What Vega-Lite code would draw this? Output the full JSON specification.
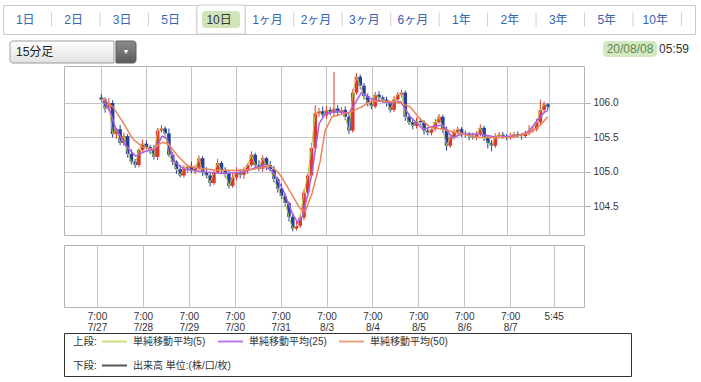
{
  "$schema": "https://vega.github.io/schema/vega-lite/v6.json",
  "padding": {"left": 2, "top": 4, "right": 0, "bottom": 0},
  "background": "white",
  "config": {
    "view": {"stroke": null},
    "font": "Liberation Sans, Noto Sans CJK JP, sans-serif"
  },
  "datasets": {
    "tabs": [
      {"label": "1日", "active": false}, {"label": "2日", "active": false}, {"label": "3日", "active": false},
      {"label": "5日", "active": false}, {"label": "10日", "active": true}, {"label": "1ヶ月", "active": false},
      {"label": "2ヶ月", "active": false}, {"label": "3ヶ月", "active": false}, {"label": "6ヶ月", "active": false},
      {"label": "1年", "active": false}, {"label": "2年", "active": false}, {"label": "3年", "active": false},
      {"label": "5年", "active": false}, {"label": "10年", "active": false}
    ],
    "candles": [
      {"t":0,"o":106.08,"h":106.13,"l":106.02,"c":106.05},
      {"t":2,"o":106.05,"h":106.08,"l":105.86,"c":105.92},
      {"t":4,"o":105.92,"h":106.07,"l":105.88,"c":106.00},
      {"t":6,"o":106.00,"h":106.04,"l":105.50,"c":105.55},
      {"t":8,"o":105.55,"h":105.64,"l":105.48,"c":105.62},
      {"t":10,"o":105.62,"h":105.68,"l":105.39,"c":105.42},
      {"t":12,"o":105.42,"h":105.57,"l":105.38,"c":105.52},
      {"t":14,"o":105.52,"h":105.55,"l":105.21,"c":105.26},
      {"t":16,"o":105.26,"h":105.33,"l":105.11,"c":105.15},
      {"t":18,"o":105.15,"h":105.19,"l":105.06,"c":105.10},
      {"t":20,"o":105.10,"h":105.34,"l":105.07,"c":105.32},
      {"t":22,"o":105.32,"h":105.47,"l":105.29,"c":105.41},
      {"t":24,"o":105.41,"h":105.46,"l":105.33,"c":105.36},
      {"t":26,"o":105.36,"h":105.39,"l":105.26,"c":105.32},
      {"t":28,"o":105.32,"h":105.39,"l":105.18,"c":105.22},
      {"t":30,"o":105.22,"h":105.64,"l":105.17,"c":105.60},
      {"t":32,"o":105.60,"h":105.68,"l":105.57,"c":105.63},
      {"t":34,"o":105.63,"h":105.66,"l":105.50,"c":105.56},
      {"t":36,"o":105.56,"h":105.63,"l":105.22,"c":105.25},
      {"t":38,"o":105.25,"h":105.29,"l":105.10,"c":105.15},
      {"t":40,"o":105.15,"h":105.17,"l":104.97,"c":105.04},
      {"t":42,"o":105.04,"h":105.10,"l":104.92,"c":104.95},
      {"t":44,"o":104.95,"h":105.10,"l":104.92,"c":105.05},
      {"t":46,"o":105.05,"h":105.11,"l":104.99,"c":105.08},
      {"t":48,"o":105.08,"h":105.15,"l":104.98,"c":105.02},
      {"t":50,"o":105.02,"h":105.10,"l":104.97,"c":105.06},
      {"t":52,"o":105.06,"h":105.24,"l":105.03,"c":105.20},
      {"t":54,"o":105.20,"h":105.23,"l":104.94,"c":105.00},
      {"t":56,"o":105.00,"h":105.07,"l":104.91,"c":104.95},
      {"t":58,"o":104.95,"h":104.99,"l":104.79,"c":104.84},
      {"t":60,"o":104.84,"h":105.02,"l":104.81,"c":105.00},
      {"t":62,"o":105.00,"h":105.19,"l":104.97,"c":105.13},
      {"t":64,"o":105.13,"h":105.16,"l":104.98,"c":105.03},
      {"t":66,"o":105.03,"h":105.07,"l":104.92,"c":104.98},
      {"t":68,"o":104.98,"h":105.03,"l":104.76,"c":104.80},
      {"t":70,"o":104.80,"h":104.98,"l":104.77,"c":104.92},
      {"t":72,"o":104.92,"h":105.07,"l":104.88,"c":105.00},
      {"t":74,"o":105.00,"h":105.04,"l":104.91,"c":104.96},
      {"t":76,"o":104.96,"h":105.07,"l":104.90,"c":105.02},
      {"t":78,"o":105.02,"h":105.13,"l":104.97,"c":105.10},
      {"t":80,"o":105.10,"h":105.30,"l":105.07,"c":105.25},
      {"t":82,"o":105.25,"h":105.28,"l":105.04,"c":105.10},
      {"t":84,"o":105.10,"h":105.17,"l":105.01,"c":105.05},
      {"t":86,"o":105.05,"h":105.24,"l":105.00,"c":105.20},
      {"t":88,"o":105.20,"h":105.22,"l":105.03,"c":105.10},
      {"t":90,"o":105.10,"h":105.16,"l":105.01,"c":105.04},
      {"t":92,"o":105.04,"h":105.09,"l":104.85,"c":104.90},
      {"t":94,"o":104.90,"h":104.93,"l":104.70,"c":104.76},
      {"t":96,"o":104.76,"h":104.83,"l":104.61,"c":104.65},
      {"t":98,"o":104.65,"h":104.69,"l":104.50,"c":104.55},
      {"t":100,"o":104.55,"h":104.57,"l":104.28,"c":104.35},
      {"t":102,"o":104.35,"h":104.41,"l":104.14,"c":104.18},
      {"t":104,"o":104.18,"h":104.29,"l":104.15,"c":104.22},
      {"t":106,"o":104.22,"h":104.38,"l":104.19,"c":104.34},
      {"t":108,"o":104.34,"h":104.75,"l":104.30,"c":104.70},
      {"t":110,"o":104.70,"h":104.98,"l":104.64,"c":104.95},
      {"t":112,"o":104.95,"h":105.42,"l":104.92,"c":105.35},
      {"t":114,"o":105.35,"h":105.97,"l":105.31,"c":105.85},
      {"t":116,"o":105.85,"h":105.93,"l":105.80,"c":105.88},
      {"t":118,"o":105.88,"h":105.95,"l":105.78,"c":105.82},
      {"t":120,"o":105.82,"h":105.96,"l":105.77,"c":105.90},
      {"t":122,"o":105.90,"h":105.94,"l":105.82,"c":105.86},
      {"t":124,"o":105.86,"h":106.45,"l":105.81,"c":105.92},
      {"t":126,"o":105.92,"h":105.97,"l":105.82,"c":105.86},
      {"t":128,"o":105.86,"h":105.94,"l":105.83,"c":105.90},
      {"t":130,"o":105.90,"h":105.95,"l":105.75,"c":105.80},
      {"t":132,"o":105.80,"h":105.84,"l":105.55,"c":105.60},
      {"t":134,"o":105.60,"h":106.20,"l":105.57,"c":106.15},
      {"t":136,"o":106.15,"h":106.43,"l":106.12,"c":106.38},
      {"t":138,"o":106.38,"h":106.41,"l":106.20,"c":106.25},
      {"t":140,"o":106.25,"h":106.29,"l":106.05,"c":106.10},
      {"t":142,"o":106.10,"h":106.14,"l":105.95,"c":106.00},
      {"t":144,"o":106.00,"h":106.04,"l":105.91,"c":105.95},
      {"t":146,"o":105.95,"h":106.16,"l":105.92,"c":106.12},
      {"t":148,"o":106.12,"h":106.17,"l":106.03,"c":106.08},
      {"t":150,"o":106.08,"h":106.11,"l":106.00,"c":106.05},
      {"t":152,"o":106.05,"h":106.09,"l":105.95,"c":106.00},
      {"t":154,"o":106.00,"h":106.03,"l":105.86,"c":105.90},
      {"t":156,"o":105.90,"h":106.10,"l":105.87,"c":106.05},
      {"t":158,"o":106.05,"h":106.16,"l":106.02,"c":106.12},
      {"t":160,"o":106.12,"h":106.19,"l":106.08,"c":106.15},
      {"t":162,"o":106.15,"h":106.18,"l":105.74,"c":105.80},
      {"t":164,"o":105.80,"h":105.85,"l":105.68,"c":105.72},
      {"t":166,"o":105.72,"h":105.76,"l":105.62,"c":105.67},
      {"t":168,"o":105.67,"h":105.79,"l":105.63,"c":105.74},
      {"t":170,"o":105.74,"h":105.78,"l":105.68,"c":105.72},
      {"t":172,"o":105.72,"h":105.75,"l":105.54,"c":105.60},
      {"t":174,"o":105.60,"h":105.65,"l":105.53,"c":105.57},
      {"t":176,"o":105.57,"h":105.66,"l":105.53,"c":105.62},
      {"t":178,"o":105.62,"h":105.77,"l":105.59,"c":105.72},
      {"t":180,"o":105.72,"h":105.84,"l":105.70,"c":105.80},
      {"t":182,"o":105.80,"h":105.83,"l":105.57,"c":105.62},
      {"t":184,"o":105.62,"h":105.66,"l":105.31,"c":105.38},
      {"t":186,"o":105.38,"h":105.55,"l":105.35,"c":105.50},
      {"t":188,"o":105.50,"h":105.62,"l":105.47,"c":105.58},
      {"t":190,"o":105.58,"h":105.66,"l":105.54,"c":105.62},
      {"t":192,"o":105.62,"h":105.65,"l":105.51,"c":105.56},
      {"t":194,"o":105.56,"h":105.60,"l":105.50,"c":105.55},
      {"t":196,"o":105.55,"h":105.58,"l":105.46,"c":105.52},
      {"t":198,"o":105.52,"h":105.57,"l":105.47,"c":105.50},
      {"t":200,"o":105.50,"h":105.59,"l":105.46,"c":105.55},
      {"t":202,"o":105.55,"h":105.69,"l":105.52,"c":105.64},
      {"t":204,"o":105.64,"h":105.67,"l":105.45,"c":105.50},
      {"t":206,"o":105.50,"h":105.53,"l":105.34,"c":105.42},
      {"t":208,"o":105.42,"h":105.46,"l":105.30,"c":105.38},
      {"t":210,"o":105.38,"h":105.56,"l":105.35,"c":105.52},
      {"t":212,"o":105.52,"h":105.58,"l":105.49,"c":105.54},
      {"t":214,"o":105.54,"h":105.58,"l":105.48,"c":105.52},
      {"t":216,"o":105.52,"h":105.55,"l":105.46,"c":105.50},
      {"t":218,"o":105.50,"h":105.57,"l":105.47,"c":105.52},
      {"t":220,"o":105.52,"h":105.58,"l":105.49,"c":105.55},
      {"t":222,"o":105.55,"h":105.59,"l":105.50,"c":105.53},
      {"t":224,"o":105.53,"h":105.56,"l":105.47,"c":105.52},
      {"t":226,"o":105.52,"h":105.60,"l":105.49,"c":105.56},
      {"t":228,"o":105.56,"h":105.68,"l":105.53,"c":105.60},
      {"t":230,"o":105.60,"h":105.66,"l":105.57,"c":105.62},
      {"t":232,"o":105.62,"h":105.77,"l":105.59,"c":105.72},
      {"t":234,"o":105.72,"h":106.05,"l":105.68,"c":105.90},
      {"t":236,"o":105.90,"h":106.02,"l":105.86,"c":105.98},
      {"t":238,"o":105.98,"h":106.00,"l":105.90,"c":105.94}
    ],
    "ma25": [
      {"t":0,"v":106.02},{"t":1.6,"v":106.01},{"t":4.2,"v":105.91},{"t":7.8,"v":105.62},{"t":13.1,"v":105.38},
      {"t":18.3,"v":105.23},{"t":23.5,"v":105.30},{"t":28.8,"v":105.33},{"t":32.4,"v":105.52},{"t":35,"v":105.48},
      {"t":39.2,"v":105.14},{"t":44.4,"v":105.04},{"t":54.9,"v":105.00},{"t":65.4,"v":104.98},{"t":75.8,"v":105.00},
      {"t":86.3,"v":105.10},{"t":91.5,"v":105.00},{"t":96.7,"v":104.75},{"t":102,"v":104.39},{"t":104.6,"v":104.27},
      {"t":107.2,"v":104.36},{"t":108.8,"v":104.54},{"t":110.3,"v":104.70},{"t":112.4,"v":105.01},{"t":116.1,"v":105.70},
      {"t":119.2,"v":105.84},{"t":125.5,"v":105.88},{"t":131.8,"v":105.85},{"t":134.9,"v":105.98},{"t":138.6,"v":106.15},
      {"t":143.8,"v":106.06},{"t":149,"v":106.03},{"t":154.2,"v":106.00},{"t":159.5,"v":106.02},{"t":164.7,"v":105.80},
      {"t":171.5,"v":105.62},{"t":176.7,"v":105.66},{"t":182,"v":105.68},{"t":187.2,"v":105.50},{"t":192.4,"v":105.55},
      {"t":201.3,"v":105.55},{"t":211.8,"v":105.50},{"t":222.2,"v":105.53},{"t":227.5,"v":105.58},{"t":231.6,"v":105.72},
      {"t":236.3,"v":105.87},{"t":238,"v":105.89}
    ],
    "ma50": [
      {"t":0,"v":106.05},{"t":1,"v":106.06},{"t":6.3,"v":105.94},{"t":11.5,"v":105.72},{"t":16.7,"v":105.48},
      {"t":22,"v":105.36},{"t":27.2,"v":105.33},{"t":32.4,"v":105.43},{"t":35.6,"v":105.41},{"t":40.8,"v":105.23},
      {"t":46,"v":105.09},{"t":52.3,"v":105.05},{"t":60.1,"v":105.03},{"t":70.6,"v":105.02},{"t":81,"v":105.04},
      {"t":89.9,"v":105.09},{"t":94.1,"v":105.00},{"t":96.7,"v":104.90},{"t":103.5,"v":104.58},{"t":106.1,"v":104.46},
      {"t":108.8,"v":104.43},{"t":112.4,"v":104.70},{"t":114,"v":104.87},{"t":116.6,"v":105.15},{"t":119.2,"v":105.59},
      {"t":122.9,"v":105.80},{"t":131.8,"v":105.86},{"t":138.6,"v":105.94},{"t":143.8,"v":106.03},{"t":154.2,"v":106.02},
      {"t":159.5,"v":106.00},{"t":164.7,"v":105.94},{"t":169.9,"v":105.77},{"t":175.2,"v":105.65},{"t":182,"v":105.62},
      {"t":189.3,"v":105.57},{"t":201.3,"v":105.50},{"t":218.6,"v":105.50},{"t":229,"v":105.58},{"t":233.7,"v":105.67},
      {"t":238,"v":105.80}
    ],
    "legendUpper": [
      {"s": "単純移動平均(5)"}, {"s": "単純移動平均(25)"}, {"s": "単純移動平均(50)"}
    ],
    "legendLower": [
      {"s": "出来高 単位:(株/口/枚)"}
    ]
  },
  "spacing": 5,
  "resolve": {"scale": {"color": "independent", "stroke": "independent"}, "legend": {"color": "independent", "stroke": "independent"}},
  "vconcat": [
    {
      "width": 692, "height": 29,
      "view": {"stroke": "#c9c9c9"},
      "data": {"name": "tabs"},
      "encoding": {
        "x": {"field": "label", "type": "nominal", "sort": null, "axis": null,
              "scale": {"paddingInner": 0, "paddingOuter": 0.14, "align": 0}}
      },
      "layer": [
        {"mark": {"type": "rect", "strokeWidth": 1, "cornerRadiusTopLeft": 3, "cornerRadiusTopRight": 3},
         "encoding": {
           "fill": {"condition": {"test": "datum.active", "value": "#ffffff"}, "value": "transparent"},
           "stroke": {"condition": {"test": "datum.active", "value": "#c9c9c9"}, "value": "transparent"}
         }},
        {"mark": {"type": "tick", "orient": "vertical", "thickness": 1, "size": 14, "color": "#d0d0d0", "opacity": 1},
         "encoding": {"x": {"field": "label", "type": "nominal", "sort": null, "bandPosition": 1}}},
        {"mark": {"type": "tick", "orient": "vertical", "thickness": 38, "size": 17, "cornerRadius": 3, "opacity": 1},
         "encoding": {"color": {"condition": {"test": "datum.active", "value": "#cfe5b9"}, "value": "transparent"}}},
        {"mark": {"type": "text", "fontSize": 12, "dx": -2},
         "encoding": {
           "text": {"field": "label"},
           "color": {"condition": {"test": "datum.active", "value": "#333333"}, "value": "#3563b5"}
         }}
      ]
    },
    {
      "spacing": 1,
      "resolve": {"scale": {"color": "independent", "stroke": "independent"}, "legend": {"color": "independent", "stroke": "independent"}},
      "vconcat": [
        {
          "spacing": 466,
          "hconcat": [
            {
              "spacing": 5,
              "hconcat": [
                {"width": 1, "height": 1, "data": {"values": [{"a": 1}]}, "mark": {"type": "rect", "opacity": 0}, "encoding": {}},
                {
                  "spacing": 0,
                  "hconcat": [
                    {
                      "width": 104, "height": 22,
                      "data": {"values": [{"label": "15分足"}]},
                      "layer": [
                        {"mark": {"type": "rect",
                                  "fill": {"gradient": "linear", "x1": 0, "y1": 0, "x2": 0, "y2": 1,
                                           "stops": [{"offset": 0, "color": "#ffffff"}, {"offset": 1, "color": "#e2e2e2"}]},
                                  "stroke": "#9d9d9d", "strokeWidth": 1, "cornerRadiusTopLeft": 3, "cornerRadiusBottomLeft": 3},
                         "encoding": {}},
                        {"mark": {"type": "text", "align": "left", "dx": 6, "fontSize": 12, "color": "#222222"},
                         "encoding": {
                           "x": {"datum": 0, "type": "quantitative", "scale": {"domain": [0, 1]}, "axis": null},
                           "text": {"field": "label"}
                         }}
                      ]
                    },
                    {
                      "width": 20, "height": 22,
                      "data": {"values": [{"s": "▼"}]},
                      "layer": [
                        {"mark": {"type": "rect",
                                  "fill": {"gradient": "linear", "x1": 0, "y1": 0, "x2": 0, "y2": 1,
                                           "stops": [{"offset": 0, "color": "#8c8c8c"}, {"offset": 1, "color": "#5a5a5a"}]},
                                  "stroke": "#5e5e5e", "strokeWidth": 1, "cornerRadiusTopRight": 3, "cornerRadiusBottomRight": 3},
                         "encoding": {}},
                        {"mark": {"type": "text", "fontSize": 7, "color": "#ffffff"}, "encoding": {"text": {"field": "s"}}}
                      ]
                    }
                  ]
                }
              ]
            },
            {
              "spacing": 0,
              "hconcat": [
                {
                  "width": 54, "height": 16,
                  "data": {"values": [{"d": "20/08/08"}]},
                  "layer": [
                    {"mark": {"type": "rect", "fill": "#d3e7c1", "cornerRadius": 4}, "encoding": {}},
                    {"mark": {"type": "text", "fontSize": 12, "color": "#5f8754"}, "encoding": {"text": {"field": "d"}}}
                  ]
                },
                {
                  "width": 34, "height": 16,
                  "data": {"values": [{"d": "05:59"}]},
                  "mark": {"type": "text", "fontSize": 12, "color": "#333333"},
                  "encoding": {"text": {"field": "d"}}
                }
              ]
            }
          ]
        },
        {
          "spacing": 8,
          "resolve": {"scale": {"color": "independent", "stroke": "independent"}, "legend": {"color": "independent", "stroke": "independent"}},
          "vconcat": [
            {
              "spacing": 59,
              "hconcat": [
                {"width": 1, "height": 1, "data": {"values": [{"a": 1}]}, "mark": {"type": "rect", "opacity": 0}, "encoding": {}},
                {
                  "width": 520, "height": 169,
                  "view": {"stroke": "#b3b3b3"},
                  "layer": [
                    {
                      "data": {"name": "candles"},
                      "mark": {"type": "rule", "strokeWidth": 1},
                      "encoding": {
                        "x": {"field": "t", "type": "quantitative",
                              "scale": {"domain": [-17.25, 254.6], "nice": false, "zero": false},
                              "axis": {"values": [0, 24, 48, 72, 96, 120, 144, 168, 192, 216, 238.75], "labels": false, "ticks": false,
                                       "domain": false, "grid": true, "gridColor": "#c4c4c4", "title": null}},
                        "y": {"field": "l", "type": "quantitative",
                              "scale": {"domain": [104.087, 106.536], "nice": false, "zero": false},
                              "axis": {"orient": "right", "values": [104.5, 105, 105.5, 106], "format": ".1f", "grid": true,
                                       "gridColor": "#c4c4c4", "tickColor": "#b0b0b0", "tickSize": 6, "labelPadding": 3,
                                       "domain": false, "title": null, "labelFontSize": 10, "labelColor": "#333333"}},
                        "y2": {"field": "h"},
                        "color": {"condition": {"test": "datum.c >= datum.o", "value": "#e0352b"}, "value": "#27409e"}
                      }
                    },
                    {
                      "data": {"name": "candles"},
                      "mark": {"type": "bar", "size": 3.6},
                      "encoding": {
                        "x": {"field": "t", "type": "quantitative"},
                        "y": {"field": "o", "type": "quantitative"},
                        "y2": {"field": "c"},
                        "color": {"condition": {"test": "datum.c >= datum.o", "value": "#e0352b"}, "value": "#27409e"}
                      }
                    },
                    {
                      "data": {"name": "candles"},
                      "mark": {"type": "line", "color": "#b3c744", "strokeWidth": 1},
                      "encoding": {
                        "x": {"field": "t", "type": "quantitative"},
                        "y": {"field": "c", "type": "quantitative"}
                      }
                    },
                    {
                      "data": {"name": "ma25"},
                      "mark": {"type": "line", "color": "#a95fe0", "strokeWidth": 1.5},
                      "encoding": {
                        "x": {"field": "t", "type": "quantitative"},
                        "y": {"field": "v", "type": "quantitative"}
                      }
                    },
                    {
                      "data": {"name": "ma50"},
                      "mark": {"type": "line", "color": "#ef8157", "strokeWidth": 1.5},
                      "encoding": {
                        "x": {"field": "t", "type": "quantitative"},
                        "y": {"field": "v", "type": "quantitative"}
                      }
                    }
                  ]
                }
              ]
            },
            {
              "spacing": -7,
              "resolve": {"scale": {"color": "independent", "stroke": "independent"}, "legend": {"color": "independent", "stroke": "independent"}},
              "vconcat": [
                {
                  "spacing": 59,
                  "hconcat": [
                    {"width": 1, "height": 1, "data": {"values": [{"a": 1}]}, "mark": {"type": "rect", "opacity": 0}, "encoding": {}},
                    {
                      "width": 520, "height": 62,
                      "view": {"stroke": "#b3b3b3"},
                      "data": {"name": "candles"},
                      "mark": {"type": "point", "opacity": 0},
                      "encoding": {
                        "x": {"field": "t", "type": "quantitative",
                              "scale": {"domain": [-17.25, 254.6], "nice": false, "zero": false},
                              "axis": {"values": [0, 24, 48, 72, 96, 120, 144, 168, 192, 216, 238.75], "grid": true,
                                       "gridColor": "#c4c4c4", "ticks": false, "domain": false, "labelPadding": 4,
                                       "labelFontSize": 10, "labelColor": "#333333", "labelLineHeight": 11, "title": null,
                                       "labelExpr": "datum.value > 230 ? '5:45' : ['7:00', ['7/27','7/28','7/29','7/30','7/31','8/3','8/4','8/5','8/6','8/7'][round(datum.value / 24)]]"}}
                      }
                    }
                  ]
                },
                {
                  "spacing": 59,
                  "resolve": {"scale": {"color": "independent", "stroke": "independent"}, "legend": {"color": "independent", "stroke": "independent"}},
                  "hconcat": [
                    {"width": 1, "height": 1, "data": {"values": [{"a": 1}]}, "mark": {"type": "rect", "opacity": 0}, "encoding": {}},
                    {
                      "width": 567, "height": 43,
                      "view": {"stroke": "#333333", "strokeWidth": 1},
                      "layer": [
                        {
                          "data": {"name": "legendUpper"},
                          "mark": {"type": "point", "filled": false, "opacity": 0},
                          "encoding": {
                            "color": {"field": "s", "type": "nominal", "sort": null,
                                      "scale": {"domain": ["単純移動平均(5)", "単純移動平均(25)", "単純移動平均(50)"],
                                                "range": ["#cfdc7e", "#b57be6", "#f09c80"]},
                                      "legend": {"title": "上段:", "orient": "none", "legendX": 9, "legendY": -5,
                                                 "direction": "horizontal", "gridAlign": "none",
                                                 "symbolType": "stroke", "symbolSize": 625, "symbolStrokeWidth": 2, "symbolOpacity": 1,
                                                 "labelFontSize": 10, "labelColor": "#333333", "labelOffset": 5,
                                                 "columnPadding": 8,
                                                 "titleOrient": "left", "titleAnchor": "middle", "titleBaseline": "top",
                                                 "titleFontSize": 10.5, "titleFontWeight": "normal",
                                                 "titleColor": "#333333", "titlePadding": 4, "padding": 0}}
                          }
                        },
                        {
                          "data": {"name": "legendLower"},
                          "mark": {"type": "point", "filled": false, "opacity": 0},
                          "encoding": {
                            "stroke": {"field": "s", "type": "nominal",
                                       "scale": {"domain": ["出来高 単位:(株/口/枚)"], "range": ["#555555"]},
                                       "legend": {"title": "下段:", "orient": "none", "legendX": 9, "legendY": 19,
                                                  "direction": "horizontal", "gridAlign": "none",
                                                  "symbolType": "stroke", "symbolSize": 625, "symbolStrokeWidth": 2, "symbolOpacity": 1,
                                                  "labelFontSize": 10, "labelColor": "#333333", "labelOffset": 5,
                                                  "titleOrient": "left", "titleAnchor": "middle", "titleBaseline": "top",
                                                  "titleFontSize": 10.5, "titleFontWeight": "normal",
                                                  "titleColor": "#333333", "titlePadding": 4, "padding": 0}}
                          }
                        }
                      ]
                    }
                  ]
                }
              ]
            }
          ]
        }
      ]
    }
  ]
}
